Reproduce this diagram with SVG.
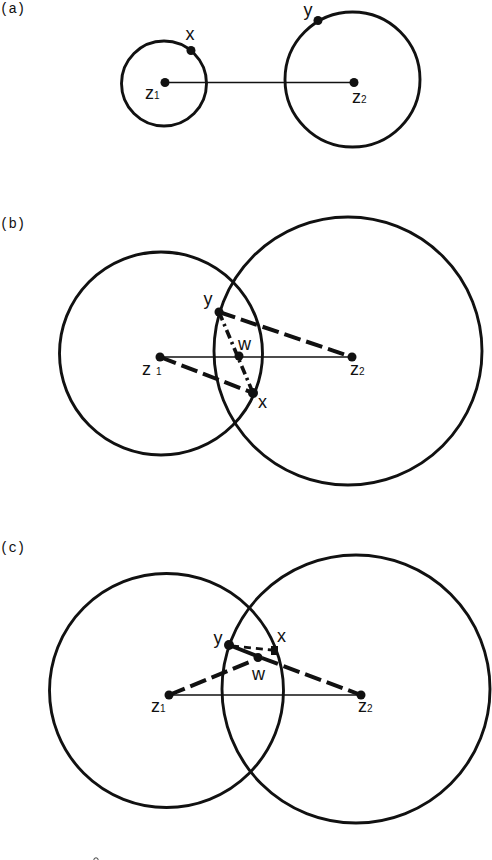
<svg xmlns="http://www.w3.org/2000/svg" width="492" height="860" viewBox="0 0 492 860">
<style>
.bg{fill:#fff}
.circ{fill:none;stroke:#111;stroke-width:2.9}
.thin{stroke:#111;stroke-width:1.3;fill:none}
.thick{stroke:#111;stroke-width:4;fill:none}
.dash{stroke:#111;stroke-width:4;fill:none;stroke-dasharray:17 6}
.dashs{stroke:#111;stroke-width:2.8;fill:none;stroke-dasharray:7 5}
.dashdot{stroke:#111;stroke-width:3.6;fill:none;stroke-dasharray:9 4 2.5 4}
.dot{fill:#111}
.lbl{font-family:"Liberation Sans",Arial,sans-serif;font-size:18px;fill:#111}
.sub{font-size:10px}
.panel{font-family:"Liberation Mono","Courier New",monospace;font-size:14px;fill:#111}
</style>
<rect class="bg" x="0" y="0" width="492" height="860"/>

<!-- Panel (a) -->
<g id="panel-a">
  <text class="panel" x="0" y="13">(a)</text>
  <g id="a-circle1"><circle class="circ" cx="164" cy="83.5" r="42.5"/></g>
  <g id="a-circle2"><circle class="circ" cx="352.5" cy="79.5" r="67.5"/></g>
  <g id="a-connectors"><line class="thin" x1="165" y1="82.5" x2="354" y2="82.5"/></g>
  <g id="a-z1"><circle class="dot" cx="165" cy="82.5" r="4.5"/><text class="lbl" x="145" y="99">z<tspan class="sub">1</tspan></text></g>
  <g id="a-z2"><circle class="dot" cx="354" cy="82.5" r="4.5"/><text class="lbl" x="352" y="103">z<tspan class="sub">2</tspan></text></g>
  <g id="a-x"><circle class="dot" cx="191" cy="50.5" r="4.5"/><text class="lbl" x="190" y="40" text-anchor="middle">x</text></g>
  <g id="a-y"><circle class="dot" cx="318" cy="20.5" r="4.5"/><text class="lbl" x="308" y="16" text-anchor="middle">y</text></g>
</g>

<!-- Panel (b) -->
<g id="panel-b">
  <text class="panel" x="0" y="228">(b)</text>
  <g id="b-circle1"><circle class="circ" cx="161" cy="353.5" r="101.5"/></g>
  <g id="b-circle2"><circle class="circ" cx="348" cy="351" r="134"/></g>
  <g id="b-connectors">
    <line class="thin" x1="160" y1="357" x2="352" y2="357"/>
    <line class="dash" x1="219" y1="312" x2="352" y2="357"/>
    <line class="dash" x1="160" y1="357" x2="253" y2="393"/>
    <line class="dashdot" x1="219" y1="312" x2="253" y2="393"/>
  </g>
  <g id="b-z1"><circle class="dot" cx="160" cy="357" r="4.5"/><text class="lbl" x="142" y="375">z <tspan class="sub">1</tspan></text></g>
  <g id="b-z2"><circle class="dot" cx="352" cy="357" r="4.5"/><text class="lbl" x="350" y="375">z<tspan class="sub">2</tspan></text></g>
  <g id="b-y"><circle class="dot" cx="219" cy="312" r="4.5"/><text class="lbl" x="208" y="305" text-anchor="middle">y</text></g>
  <g id="b-w"><circle class="dot" cx="239" cy="356" r="4.5"/><text class="lbl" x="238" y="350">w</text></g>
  <g id="b-x"><circle class="dot" cx="253" cy="393" r="5"/><text class="lbl" x="258" y="408">x</text></g>
</g>

<!-- Panel (c) -->
<g id="panel-c">
  <text class="panel" x="0" y="552">(c)</text>
  <g id="c-circle1"><circle class="circ" cx="166.5" cy="690.5" r="117"/></g>
  <g id="c-circle2"><circle class="circ" cx="356" cy="689" r="134"/></g>
  <g id="c-connectors">
    <line class="thin" x1="169" y1="695" x2="361" y2="695"/>
    <line class="dash" x1="169" y1="695" x2="252" y2="661"/>
    <line class="thick" x1="229" y1="645" x2="262" y2="658"/>
    <line class="dash" x1="262" y1="658" x2="361" y2="695"/>
    <line class="dashs" x1="232" y1="646" x2="272" y2="650"/>
  </g>
  <g id="c-z1"><circle class="dot" cx="169" cy="695" r="4.5"/><text class="lbl" x="151" y="712">z<tspan class="sub">1</tspan></text></g>
  <g id="c-z2"><circle class="dot" cx="361" cy="695" r="4.5"/><text class="lbl" x="358" y="712">z<tspan class="sub">2</tspan></text></g>
  <g id="c-y"><circle class="dot" cx="229" cy="645" r="5"/><text class="lbl" x="218" y="644" text-anchor="middle">y</text></g>
  <g id="c-w"><circle class="dot" cx="258" cy="657.5" r="4.5"/><text class="lbl" x="252" y="680">w</text></g>
  <g id="c-x"><rect class="dot" x="271" y="646" width="7" height="9"/><text class="lbl" x="277" y="642">x</text></g>
  <circle cx="96" cy="860" r="2.2" fill="none" stroke="#111" stroke-width="0.8"/>
</g>
</svg>
